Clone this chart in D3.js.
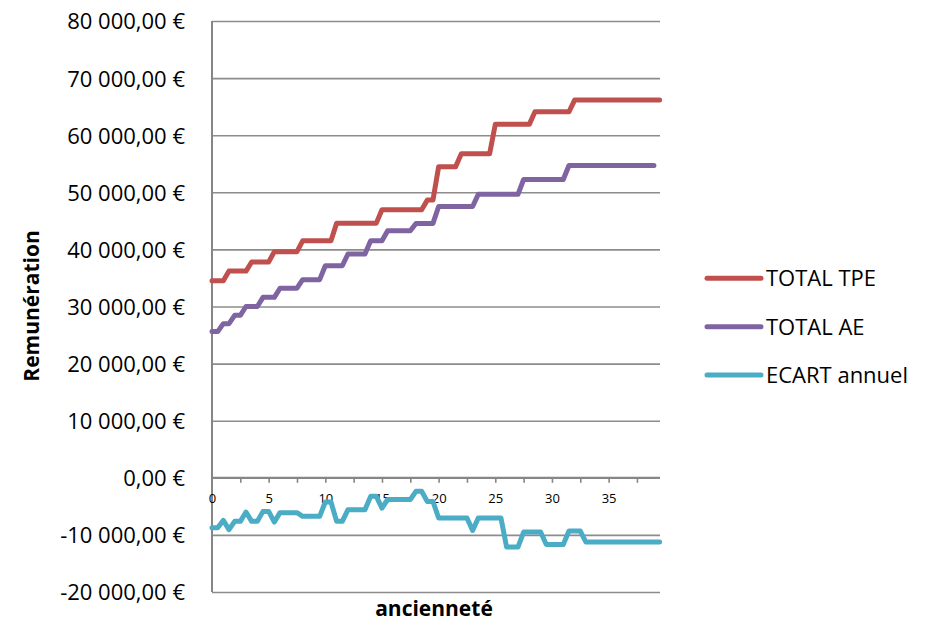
<!DOCTYPE html>
<html>
<head>
<meta charset="utf-8">
<script src="https://cdn.jsdelivr.net/npm/d3@7"></script>
<style>
  html, body { margin: 0; padding: 0; background: #fff; }
  svg { display: block; }
  text { font-family: "Open Sans", "Noto Sans", sans-serif; fill: #000; }
</style>
</head>
<body>
<svg id="chart" width="933" height="623"></svg>
<script>
// ---- data ----
const categories = [0,0.5,1,1.5,2,2.5,3,3.5,4,4.5,5,5.5,6,6.5,7,7.5,8,8.5,9,9.5,
  10,10.5,11,11.5,12,12.5,13,13.5,14,14.5,15,15.5,16,16.5,17,17.5,18,18.5,19,19.5,
  20,20.5,21,21.5,22,22.5,23,23.5,24,24.5,25,25.5,26,26.5,27,27.5,28,28.5,29,29.5,
  30,30.5,31,31.5,32,32.5,33,33.5,34,34.5,35,35.5,36,36.5,37,37.5,38,38.5,39,39.5];

const totalTPE = [34500,34500,34500,
  36200,36200,36200,36200,
  37800,37800,37800,37800,
  39600,39600,39600,39600,39600,
  41500,41500,41500,41500,41500,41500,
  44600,44600,44600,44600,44600,44600,44600,44600,
  46930,46930,46930,46930,46930,46930,46930,46930,
  48630,48630,
  54470,54470,54470,54470,
  56750,56750,56750,56750,56750,56750,
  61900,61900,61900,61900,61900,61900,61900,
  64100,64100,64100,64100,64100,64100,64100,
  66150,66150,66150,66150,66150,66150,66150,66150,66150,66150,66150,66150,66150,66150,66150,66150];

const totalAE = [25600,25600,
  27000,27000,
  28450,28450,
  30000,30000,30000,
  31600,31600,31600,
  33200,33200,33200,33200,
  34700,34700,34700,34700,
  37130,37130,37130,37130,
  39200,39200,39200,39200,
  41500,41500,41500,
  43250,43250,43250,43250,43250,
  44550,44550,44550,44550,
  47500,47500,47500,47500,47500,47500,47500,
  49650,49650,49650,49650,49650,49650,49650,49650,
  52240,52240,52240,52240,52240,52240,52240,52240,
  54700,54700,54700,54700,54700,54700,54700,54700,54700,54700,54700,54700,54700,54700,54700,54700];

const ecartAnnuel = [-8740,-8740,-7460,-9090,-7630,-7630,-6000,-7630,-7630,-5880,
  -5880,-7750,-6100,-6100,-6100,-6100,-6750,-6750,-6750,-6750,
  -4240,-4240,-7630,-7630,-5580,-5580,-5580,-5580,-3250,-3250,
  -5300,-3800,-3800,-3800,-3800,-3800,-2370,-2370,-4150,-4150,
  -7050,-7050,-7050,-7050,-7050,-7050,-9210,-7050,-7050,-7050,
  -7050,-7050,-12140,-12140,-12140,-9500,-9500,-9500,-9500,-11670,
  -11670,-11670,-11670,-9330,-9330,-9330,-11260,-11260,-11260,-11260,
  -11260,-11260,-11260,-11260,-11260,-11260,-11260,-11260,-11260,-11260];

const seriesNames = ["TOTAL TPE", "TOTAL AE", "ECART annuel"];
const seriesColors = ["#C0504D", "#8064A2", "#4BACC6"];
const yTicks = [-20000,-10000,0,10000,20000,30000,40000,50000,60000,70000,80000];
const xLabelTicks = [0,5,10,15,20,25,30,35];
const xMarkTicks = [2.5,5,7.5,10,12.5,15,17.5,20,22.5,25,27.5,30,32.5,35,37.5];
const yTitle = "Remunération";
const xTitle = "ancienneté";

// ---- layout ----
const plotLeft = 212, plotRight = 660, plotTop = 21, plotBottom = 592;
const svg = d3.select("#chart");

const x = d3.scaleLinear().domain([0, 39.5]).range([plotLeft, 659.6]);
const y = d3.scaleLinear().domain([-20000, 80000]).range([plotBottom, plotTop]);

const fr = d3.formatLocale({decimal: ",", thousands: "\u00a0", grouping: [3], currency: ["", "\u00a0€"], minus: "-"});
const fmt = fr.format("$,.2f");

// gridlines + y labels
const gy = svg.append("g").attr("transform", `translate(${plotLeft},0)`)
  .call(d3.axisLeft(y).tickValues(yTicks).tickSize(-(plotRight - plotLeft)).tickPadding(27).tickFormat(fmt));
gy.select(".domain").remove();
gy.selectAll(".tick line").attr("stroke", "#8c8c8c").attr("stroke-width", 1.6);
gy.selectAll(".tick text").attr("font-size", 22).attr("fill", "#000").attr("dy", "0.36em");

// vertical axis line
svg.append("line").attr("x1", plotLeft).attr("x2", plotLeft).attr("y1", plotTop).attr("y2", plotBottom)
  .attr("stroke", "#868686").attr("stroke-width", 2);

// x axis at zero
const y0 = y(0);
const gxm = svg.append("g").attr("transform", `translate(0,${y0})`)
  .call(d3.axisBottom(x).tickValues(xMarkTicks).tickSize(5).tickFormat(""));
gxm.select(".domain").remove();
gxm.selectAll(".tick line").attr("stroke", "#868686").attr("stroke-width", 1.6);
svg.append("line").attr("x1", plotLeft).attr("x2", plotRight).attr("y1", y0).attr("y2", y0)
  .attr("stroke", "#868686").attr("stroke-width", 2);

const gxl = svg.append("g").attr("transform", `translate(0,${y0})`)
  .call(d3.axisBottom(x).tickValues(xLabelTicks).tickSize(0).tickPadding(16).tickFormat(d3.format("d")));
gxl.select(".domain").remove();
gxl.selectAll(".tick text").attr("font-size", 13).attr("fill", "#000");

// lines
const allSeries = [totalTPE, totalAE, ecartAnnuel];
const line = d3.line().x((d, i) => x(categories[i])).y(d => y(d));
allSeries.forEach((s, k) => {
  svg.append("path").datum(s).attr("d", line)
    .attr("fill", "none").attr("stroke", seriesColors[k]).attr("stroke-width", 5)
    .attr("stroke-linejoin", "round").attr("stroke-linecap", "round");
});

// axis titles
svg.append("text").attr("transform", "translate(38.5,306) rotate(-90)")
  .attr("text-anchor", "middle").attr("font-weight", "bold").attr("font-size", 21).text(yTitle);
svg.append("text").attr("x", 434).attr("y", 616)
  .attr("text-anchor", "middle").attr("font-weight", "bold").attr("font-size", 21).text(xTitle);

// legend
const legY = [278.3, 326.7, 375];
seriesNames.forEach((name, k) => {
  svg.append("line").attr("x1", 707).attr("x2", 761).attr("y1", legY[k]).attr("y2", legY[k])
    .attr("stroke", seriesColors[k]).attr("stroke-width", 5).attr("stroke-linecap", "round");
  svg.append("text").attr("x", 766).attr("y", legY[k]).attr("dy", "0.36em")
    .attr("font-size", 22).text(name);
});
</script>
</body>
</html>
